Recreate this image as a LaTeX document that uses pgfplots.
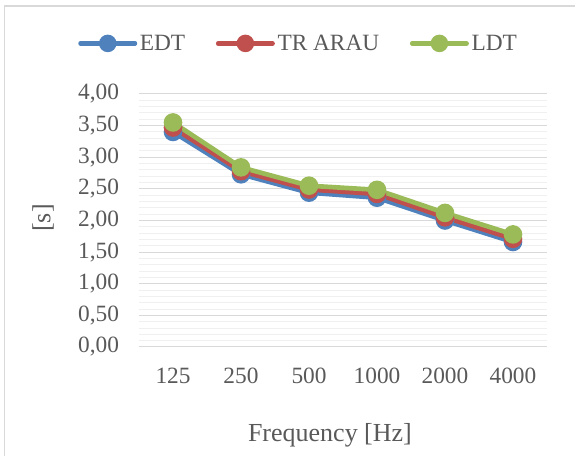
\documentclass[border=0pt]{standalone}
\usepackage{pgfplots}
\pgfplotsset{compat=1.18}
\usepackage{fontspec}
\setmainfont{Liberation Serif}
\definecolor{cBlue}{HTML}{4F81BD}
\definecolor{cRed}{HTML}{C0504D}
\definecolor{cGreen}{HTML}{9BBB59}
\definecolor{txt}{HTML}{595959}
\definecolor{gmaj}{HTML}{D9D9D9}
\definecolor{gmin}{HTML}{F0F0F0}
\begin{document}
\begin{tikzpicture}
\useasboundingbox (0pt,0pt) rectangle (431.25pt,342pt);
\draw[gmaj,line width=1.2pt] (3.4pt,-5pt) -- (3.4pt,337.5pt) -- (440pt,337.5pt);
\begin{axis}[
  at={(104.25pt,81.75pt)}, anchor=south west,
  scale only axis, width=306pt, height=189.75pt,
  xmin=-0.5, xmax=5.5, ymin=0, ymax=4,
  xtick={0,1,2,3,4,5},
  xticklabels={125,250,500,1000,2000,4000},
  ytick={0,0.5,...,4},
  minor y tick num=4,
  major tick length=0pt, minor tick length=0pt,
  axis line style={draw=none},
  ymajorgrids, yminorgrids,
  major grid style={gmaj,line width=0.75pt},
  minor grid style={gmin,line width=0.75pt},
  tick label style={font=\fontsize{17.5}{20}\selectfont, text=txt},
  /pgf/number format/assume math mode=true,
  yticklabel style={/pgf/number format/fixed, /pgf/number format/fixed zerofill, /pgf/number format/precision=2, /pgf/number format/use comma, xshift=-11.5pt},
  xticklabel style={yshift=-12pt},
  xlabel={Frequency [Hz]},
  ylabel={[s]},
  label style={font=\fontsize{19.5}{22}\selectfont, text=txt},
  xlabel style={at={(axis description cs:0.468,-0.35)}, anchor=center},
  ylabel style={at={(axis description cs:-0.235,0.51)}, anchor=center, rotate=0},
  legend columns=3,
  legend style={at={(axis description cs:0.392,1.2)}, anchor=center, draw=none, fill=none,
    font=\fontsize{17.5}{20}\selectfont, text=txt,
    /tikz/every even column/.append style={column sep=21pt}},
  legend image code/.code={
    \draw[#1, line cap=round, line width=3.2pt] (0pt,0pt) -- (41pt,0pt);
    \fill[#1] (20.5pt,0pt) circle (4.8pt);
  },
  every axis plot/.append style={line width=3.5pt, mark=*, mark size=5.2pt},
]
\addplot[cBlue, mark options={fill=cBlue, draw=cBlue}] coordinates {(0,3.40) (1,2.73) (2,2.44) (3,2.36) (4,2.00) (5,1.66)};
\addlegendentry{EDT}
\addplot[cRed, mark options={fill=cRed, draw=cRed}] coordinates {(0,3.47) (1,2.78) (2,2.49) (3,2.42) (4,2.05) (5,1.71)};
\addlegendentry{TR ARAU}
\addplot[cGreen, mark options={fill=cGreen, draw=cGreen}] coordinates {(0,3.55) (1,2.84) (2,2.55) (3,2.485) (4,2.12) (5,1.78)};
\addlegendentry{LDT}
\end{axis}
\end{tikzpicture}
\end{document}
